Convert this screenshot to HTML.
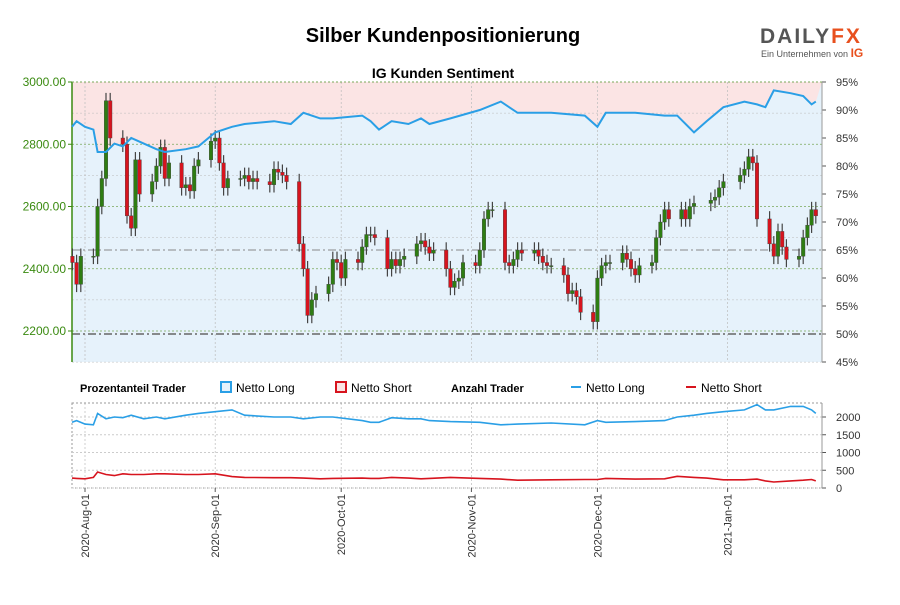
<!DOCTYPE html>
<html><head><meta charset="utf-8"><style>
body{margin:0;background:#fff;font-family:"Liberation Sans",sans-serif}
</style></head><body>
<svg id="c" width="900" height="600" xmlns="http://www.w3.org/2000/svg" font-family="Liberation Sans, sans-serif">
<text x="443" y="42" text-anchor="middle" font-size="20" font-weight="bold">Silber Kundenpositionierung</text>
<text x="443" y="78" text-anchor="middle" font-size="14" font-weight="bold">IG Kunden Sentiment</text>
<g>
<text x="760" y="43" font-size="21" font-weight="bold" fill="#555" letter-spacing="2">DAILY<tspan fill="#e8501e">FX</tspan></text>
<text x="761" y="57" font-size="9" fill="#555">Ein Unternehmen von <tspan fill="#e8501e" font-weight="bold" font-size="12">IG</tspan></text>
</g>
<g id="main"></g>
<g id="legend">
<text x="80" y="392" font-size="11" font-weight="bold">Prozentanteil Trader</text>
<rect x="221" y="382" width="10" height="10" fill="#e6f2fb" stroke="#2a9fe6" stroke-width="2"/>
<text x="236" y="392" font-size="12">Netto Long</text>
<rect x="336" y="382" width="10" height="10" fill="#fbe4e4" stroke="#d7141e" stroke-width="2"/>
<text x="351" y="392" font-size="12">Netto Short</text>
<text x="451" y="392" font-size="11" font-weight="bold">Anzahl Trader</text>
<line x1="571" y1="387" x2="581" y2="387" stroke="#2a9fe6" stroke-width="2"/>
<text x="586" y="392" font-size="12">Netto Long</text>
<line x1="686" y1="387" x2="696" y2="387" stroke="#d7141e" stroke-width="2"/>
<text x="701" y="392" font-size="12">Netto Short</text>
</g>
<g id="bottom"></g>
</svg>
<script>
const closes=[2420,2350,2440,
2440,2600,2690,2940,2820,
2800,2570,2530,2750,2640,
2680,2730,2790,2690,2740,
2660,2670,2650,2730,2750,
2810,2820,2740,2660,2690,
2690,2700,2680,2690,2680,
2670,2720,2710,2700,2680,
2480,2400,2250,2300,2320,
2350,2430,2420,2370,2430,
2420,2470,2510,2510,2500,
2400,2430,2410,2430,2440,
2480,2490,2470,2450,2460,
2400,2340,2360,2370,2420,
2410,2460,2560,2590,2590,
2420,2410,2430,2460,2450,
2460,2440,2420,2410,2410,
2380,2320,2330,2310,2260,
2230,2370,2410,2420,2420,
2450,2430,2400,2380,2410,
2420,2500,2550,2590,2560,
2590,2560,2600,2610,
2620,2630,2660,2680,
2700,2720,2760,2740,2560,
2480,2440,2520,2470,2430,
2440,2500,2540,2590,2570];
const sentDates=["2020-07-28","2020-07-30","2020-08-01","2020-08-03","2020-08-04","2020-08-06","2020-08-08","2020-08-10","2020-08-12","2020-08-15","2020-08-18","2020-08-20","2020-08-25","2020-08-28","2020-09-01","2020-09-05","2020-09-08","2020-09-15","2020-09-19","2020-09-22","2020-09-26","2020-09-29","2020-10-06","2020-10-08","2020-10-10","2020-10-13","2020-10-17","2020-10-20","2020-10-22","2020-10-27","2020-11-03","2020-11-08","2020-11-12","2020-11-20","2020-11-28","2020-12-01","2020-12-03","2020-12-10","2020-12-17","2020-12-20","2020-12-24","2020-12-27","2020-12-31","2021-01-05","2021-01-08","2021-01-10","2021-01-12","2021-01-16","2021-01-19","2021-01-21","2021-01-22"];
const pctLong=[87,88,87,86.5,82.5,82.5,84,83.5,85,84,83,82.5,83,83.5,86,87,87.5,88,87.5,89.5,88.5,88.5,89,88,86.5,88,87.5,88.5,87.5,88.5,90,91.5,89.5,89.5,89,87,89.5,89.5,89,89,86,88,90.5,91.5,91,90.5,93.5,93,92.5,91,91.5];
const countLong=[1850,1900,1800,1780,2100,1950,2000,1980,2050,1950,2000,1950,2050,2100,2150,2200,2050,2000,2000,1950,2000,2000,1900,1850,1850,1980,1950,1950,1900,1870,1850,1780,1800,1830,1780,1900,1850,1870,1900,2000,2050,2100,2150,2200,2350,2200,2200,2300,2300,2200,2100];
const countShort=[280,270,260,300,450,380,350,400,380,380,400,400,380,380,400,320,300,290,290,280,260,270,280,270,270,300,280,260,270,300,270,250,220,230,240,240,270,250,260,330,300,280,230,230,250,200,170,200,220,240,200];
const priceTicks=[2200,2400,2600,2800,3000];
const pctTicks=[45,50,55,60,65,70,75,80,85,90,95];
const countTicks=[0,500,1000,1500,2000];
const xLabels=["2020-Aug-01","2020-Sep-01","2020-Oct-01","2020-Nov-01","2020-Dec-01","2021-Jan-01"];
const xDates=["2020-08-01","2020-09-01","2020-10-01","2020-11-01","2020-12-01","2021-01-01"];

const NS="http://www.w3.org/2000/svg";
const L=72,R=822,T=82,B=362,BT=403,BB=488;
const base=Date.UTC(2020,7,1);
function xd(d){const t=(typeof d==="string")?Date.parse(d+"T00:00:00Z"):d;return 85+(t-base)/864e5*4.2;}
function yp(p){return 82+(3000-p)*62.25/200;}
function yq(p){return 82+(95-p)*5.6;}
function yc(v){return 488-v*0.0355;}
function mk(par,tag,at){const e=document.createElementNS(NS,tag);for(const k in at)e.setAttribute(k,at[k]);par.appendChild(e);return e;}
const main=document.getElementById('main'),bot=document.getElementById('bottom');
const dates=[];let t=Date.UTC(2020,6,29);
while(dates.length<closes.length){const d=new Date(t);const wd=d.getUTCDay();const s=d.toISOString().slice(0,10);if(wd>0&&wd<6&&s!=="2020-12-25"&&s!=="2021-01-01")dates.push(t);t+=864e5;}
mk(main,'rect',{x:L,y:T,width:R-L,height:B-T,fill:'#e6f2fb'});
let pts=sentDates.map((d,i)=>[Math.max(L,Math.min(R,xd(d))),yq(pctLong[i])]);
let pd='M'+L+','+T+' '+pts.map(p=>'L'+p[0].toFixed(1)+','+p[1].toFixed(1)).join(' ')+' L'+R+','+T+'Z';
const sa=mk(main,'path',{d:pd,fill:'#fbe4e4'});

for(const p of priceTicks){mk(main,'line',{x1:L,x2:R,y1:yp(p),y2:yp(p),stroke:'#7aa85a','stroke-dasharray':'2,2','stroke-width':0.8});
 mk(main,'line',{x1:L,x2:R,y1:yp(p-100),y2:yp(p-100),stroke:'#bbb','stroke-dasharray':'2,2','stroke-width':0.6});
 mk(main,'line',{x1:L-4,x2:L,y1:yp(p),y2:yp(p),stroke:'#3a8a10'});
 const tx=mk(main,'text',{x:L-6,y:yp(p)+4,'text-anchor':'end','font-size':12,fill:'#3a8a10'});tx.textContent=p.toFixed(2);
 }
for(const d of xDates){const x=xd(d);mk(main,'line',{x1:x,x2:x,y1:T,y2:B,stroke:'#bbb','stroke-dasharray':'2,2','stroke-width':0.7});
 mk(bot,'line',{x1:x,x2:x,y1:BT,y2:BB,stroke:'#bbb','stroke-dasharray':'2,2','stroke-width':0.7});}
mk(main,'line',{x1:L,x2:R,y1:yq(65),y2:yq(65),stroke:'#888','stroke-dasharray':'8,3,2,3','stroke-width':1});
mk(main,'line',{x1:L,x2:R,y1:yq(50),y2:yq(50),stroke:'#666','stroke-dasharray':'8,3,2,3','stroke-width':1.5});
for(const p of pctTicks){mk(main,'line',{x1:R,x2:R+4,y1:yq(p),y2:yq(p),stroke:'#555'});
 const tx=mk(main,'text',{x:R+14,y:yq(p)+4,'font-size':11,fill:'#333'});tx.textContent=p+'%';
 }
mk(main,'line',{x1:L,x2:L,y1:T,y2:B,stroke:'#3a8a10','stroke-width':1.5});
mk(main,'line',{x1:R,x2:R,y1:T,y2:B,stroke:'#999'});
mk(main,'line',{x1:L,x2:R,y1:T,y2:T,stroke:'#7aa85a','stroke-dasharray':'2,2'});
for(let i=0;i<closes.length;i++){const c=closes[i],o=i>0?closes[i-1]:closes[0]+20;const x=xd(dates[i]);
 const up=c>=o;const hi=Math.max(o,c)+25,lo=Math.min(o,c)-25;
 const g=mk(main,'g',{});
 mk(g,'line',{x1:x,x2:x,y1:yp(hi),y2:yp(lo),stroke:'#444','stroke-width':1.2});
 const y1=yp(Math.max(o,c)),h=Math.max(1,yp(Math.min(o,c))-y1);
 mk(g,'rect',{x:x-1.8,y:y1,width:3.6,height:h,fill:up?'#2e7d12':'#d7141e',stroke:'#444','stroke-width':0.4});}
const ln=mk(main,'path',{d:'M'+pts.map(p=>p[0].toFixed(1)+','+p[1].toFixed(1)).join(' L'),fill:'none',stroke:'#2a9fe6','stroke-width':2});

mk(bot,'rect',{x:L,y:BT,width:R-L,height:BB-BT,fill:'none',stroke:'#999','stroke-dasharray':'2,2'});
for(const v of countTicks){mk(bot,'line',{x1:L,x2:R,y1:yc(v),y2:yc(v),stroke:'#ccc','stroke-dasharray':'2,2'});
 mk(bot,'line',{x1:R,x2:R+4,y1:yc(v),y2:yc(v),stroke:'#555'});
 const tx=mk(bot,'text',{x:R+14,y:yc(v)+4,'font-size':11,fill:'#333'});tx.textContent=v;
 }
mk(bot,'line',{x1:R,x2:R,y1:BT,y2:BB,stroke:'#999'});
function ser(arr,col,name){const d='M'+sentDates.map((s,i)=>Math.max(L,Math.min(R,xd(s))).toFixed(1)+','+yc(arr[i]).toFixed(1)).join(' L');
 const p=mk(bot,'path',{d:d,fill:'none',stroke:col,'stroke-width':1.6});}
ser(countLong,'#2a9fe6','net-long-count-line');ser(countShort,'#d7141e','net-short-count-line');
xLabels.forEach((lab,i)=>{const x=xd(xDates[i]);mk(bot,'line',{x1:x,x2:x,y1:BB,y2:BB+4,stroke:'#555'});
 const tx=mk(bot,'text',{x:0,y:0,'font-size':11,fill:'#333','text-anchor':'end',transform:`translate(${x+4},${BB+6}) rotate(-90)`});tx.textContent=lab;
 });
</script>
</body></html>
